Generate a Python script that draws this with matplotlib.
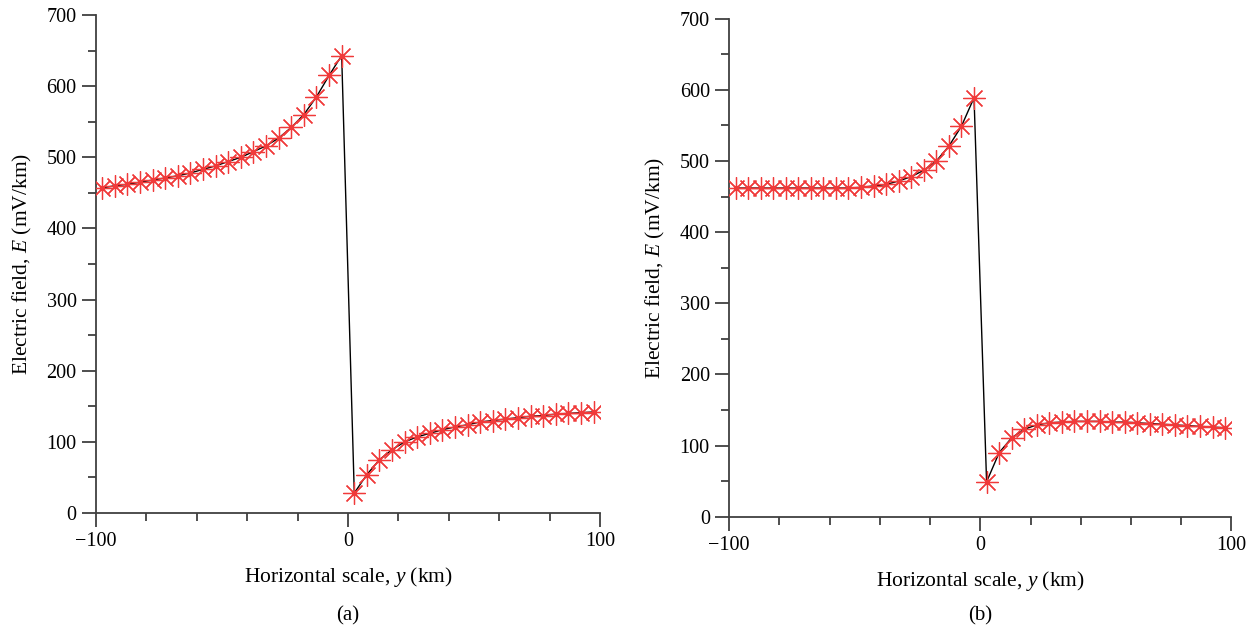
import numpy as np
import matplotlib
matplotlib.use('Agg')
import matplotlib.pyplot as plt
from matplotlib.ticker import MultipleLocator

plt.rcParams['font.family'] = ['Liberation Serif', 'DejaVu Serif']
plt.rcParams['mathtext.fontset'] = 'custom'
plt.rcParams['mathtext.rm'] = 'Liberation Serif'
plt.rcParams['mathtext.it'] = 'Liberation Serif:italic'

# Sample positions (km), 5 km spacing on each side of the boundary
y_km = [-97.5, -92.5, -87.5, -82.5, -77.5, -72.5, -67.5, -62.5, -57.5, -52.5,
        -47.5, -42.5, -37.5, -32.5, -27.5, -22.5, -17.5, -12.5, -7.5, -2.5,
        2.5, 7.5, 12.5, 17.5, 22.5, 27.5, 32.5, 37.5, 42.5, 47.5,
        52.5, 57.5, 62.5, 67.5, 72.5, 77.5, 82.5, 87.5, 92.5, 97.5]

# Electric field (mV/km), case (a)
field_a = [457, 460, 462, 465, 468, 471, 474, 478, 483, 488,
           494, 500, 508, 516, 527, 542, 560, 585, 615, 643,
           28, 54, 75, 89, 100, 107, 112, 117, 121, 124,
           128, 130, 132, 134, 136, 137, 139, 140, 141, 142]

# Electric field (mV/km), case (b)
field_b = [462, 462, 462, 462, 462, 462, 462, 462, 462, 462,
           463, 465, 467, 472, 478, 487, 500, 521, 549, 589,
           49, 90, 111, 123, 129, 132, 133, 134, 134, 134,
           133, 133, 132, 131, 130, 129, 128, 127, 126, 125]

panels = [('(a)', field_a), ('(b)', field_b)]

fig = plt.figure(figsize=(12.56, 6.33), dpi=100)
axes_pos = [[0.0764, 0.1896, 0.4013, 0.7867],
            [0.5806, 0.1837, 0.3998, 0.7867]]

asterisk = (8, 2, 0)
red = '#f03a3a'

for (tag, field), pos in zip(panels, axes_pos):
    ax = fig.add_axes(pos)
    ax.plot(y_km, field, color='black', linewidth=1.0, zorder=2)
    ax.plot(y_km, field, linestyle='none', marker=asterisk, markersize=16,
            markeredgewidth=0.9, color=red, markeredgecolor=red, zorder=3)
    ax.plot(y_km, field, linestyle='none', marker='o', markersize=3,
            color=red, zorder=3)

    ax.set_xlim(-100, 100)
    ax.set_ylim(0, 700)
    ax.xaxis.set_minor_locator(MultipleLocator(20))
    ax.yaxis.set_major_locator(MultipleLocator(100))
    ax.yaxis.set_minor_locator(MultipleLocator(50))

    ax.spines['right'].set_visible(False)
    ax.spines['top'].set_visible(False)
    for s in ('left', 'bottom'):
        ax.spines[s].set_linewidth(1.3)
        ax.spines[s].set_color('#404040')

    ax.tick_params(which='major', direction='out', length=10, width=1.3,
                   color='#404040', labelsize=14.5, pad=4)
    ax.tick_params(which='minor', direction='out', length=6, width=1.3,
                   color='#404040')

    ax.set_xticks([-100, 0, 100])
    ax.set_xticklabels(['\u2212100', '0', '100'])

    ax.set_xlabel('Horizontal scale, $\\mathit{y}$ (km)', fontsize=15.5,
                  labelpad=10)
    ax.set_ylabel('Electric field, $\\mathit{E}$ (mV/km)', fontsize=15.5,
                  labelpad=9)

    xc = pos[0] + pos[2] / 2
    fig.text(xc, 0.012, tag, ha='center', va='bottom', fontsize=15)

plt.savefig('out.png', dpi=100)
